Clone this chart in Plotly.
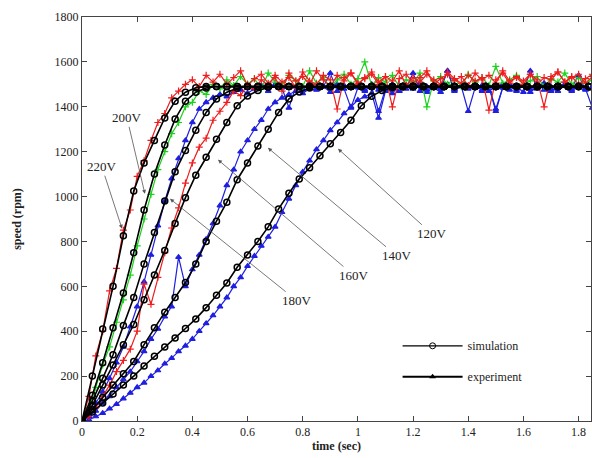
import plotly.graph_objects as go

# simulation samples (one marker every 0.0375 s)
sim_dt = 0.0375
sim_220 = [0, 200, 410, 600, 825, 1025, 1150, 1250, 1350, 1425, 1465, 1485] + [1490] * 38
sim_200 = [0, 115, 260, 415, 570, 750, 940, 1100, 1230, 1345, 1425, 1465, 1484] + [1490] * 37
sim_180 = [0, 90, 190, 295, 425, 550, 700, 840, 980, 1110, 1205, 1295, 1375, 1435,
           1465, 1482] + [1490] * 34
sim_160 = [0, 70, 160, 250, 340, 430, 540, 650, 760, 880, 995, 1095, 1175, 1255, 1330,
           1405, 1448, 1472, 1487] + [1490] * 31
sim_140 = [0, 50, 105, 160, 210, 265, 340, 415, 485, 550, 617, 700, 800, 890, 975, 1075,
           1150, 1225, 1300, 1375, 1435, 1466, 1484] + [1490] * 27
sim_120 = [0, 40, 80, 120, 160, 200, 245, 288, 330, 370, 412, 455, 505, 560, 615, 685,
           740, 800, 865, 945, 1015, 1078, 1128, 1182, 1235, 1285, 1340, 1405, 1447,
           1472, 1486] + [1490] * 19

# measured speed (one sample every 0.025 s)
exp_dt = 0.025
exp_220 = [0, 110, 290, 400, 580, 680, 850, 940, 1090, 1160, 1250, 1330, 1370, 1440, 1470,
           1500, 1520, 1490, 1540,
           1510, 1545, 1500, 1530, 1560, 1495, 1525, 1545, 1505, 1530,
           1470, 1550, 1515, 1535, 1500, 1560, 1520, 1490, 1540, 1515,
           1550, 1500, 1530, 1555, 1510, 1535, 1400, 1525, 1545, 1505,
           1530, 1560, 1500, 1525, 1545, 1515, 1535, 1495, 1550, 1520,
           1540, 1505, 1560, 1515, 1530, 1500, 1545, 1520, 1400, 1535,
           1555, 1510, 1530, 1545, 1505, 1535]
exp_200 = [0, 60, 150, 250, 330, 440, 540, 650, 780, 900, 1010, 1120, 1200, 1280, 1330,
           1400, 1420, 1470, 1455, 1500, 1480, 1520, 1495,
           1535, 1500, 1525, 1480, 1550, 1510, 1495, 1540, 1515, 1490,
           1560, 1505, 1530, 1485, 1520, 1545, 1500, 1525, 1600, 1495,
           1530, 1510, 1540, 1490, 1520, 1505, 1550, 1400, 1515, 1535,
           1500, 1525, 1490, 1545, 1510, 1530, 1495, 1580, 1505, 1520,
           1540, 1500, 1515, 1535, 1490, 1525, 1510, 1550, 1500, 1530,
           1505, 1520]
exp_180 = [0, 30, 80, 130, 190, 260, 330, 420, 510, 620, 740, 870, 980, 1080, 1170, 1250,
           1330, 1390, 1420, 1440, 1455, 1445, 1465, 1475, 1460,
           1480, 1495, 1470, 1500, 1485, 1395, 1490, 1475, 1505, 1480,
           1490, 1550, 1470, 1495, 1485, 1500, 1475, 1490, 1380, 1480,
           1500, 1470, 1495, 1485, 1505, 1475, 1490, 1480, 1560, 1470,
           1495, 1485, 1500, 1475, 1490, 1390, 1485, 1500, 1470, 1495,
           1480, 1505, 1475, 1490, 1485, 1500, 1470, 1495, 1480, 1490]
exp_160 = [0, 20, 60, 110, 160, 220, 270, 320, 400, 610, 520, 640, 750, 860, 950, 1060,
           1150, 1220, 1260, 1340, 1380, 1420, 1470, 1450, 1500, 1480, 1520,
           1495, 1540, 1510, 1530, 1485, 1555, 1515, 1500, 1540, 1520,
           1390, 1530, 1550, 1505, 1525, 1545, 1500, 1535, 1515, 1560,
           1495, 1530, 1510, 1545, 1520, 1500, 1555, 1525, 1505, 1540,
           1515, 1530, 1385, 1520, 1550, 1505, 1535, 1515, 1545, 1500,
           1530, 1520, 1555, 1510, 1535, 1500, 1525, 1545]
exp_140 = [0, 20, 45, 80, 110, 150, 185, 220, 265, 310, 365, 410, 465, 510, 730, 600, 675,
           740, 810, 880, 960, 1050, 1120, 1200, 1250, 1300, 1340, 1390, 1420, 1440, 1455,
           1470, 1460, 1480,
           1475, 1490, 1465, 1500, 1480, 1395, 1485, 1470, 1500, 1475,
           1490, 1460, 1495, 1480, 1550, 1470, 1490, 1485, 1465, 1500,
           1478, 1490, 1380, 1485, 1495, 1470, 1488, 1500, 1475, 1490,
           1465, 1560, 1480, 1495, 1470, 1485, 1500, 1475, 1490, 1480, 1395]
exp_120 = [0, 5, 20, 35, 55, 75, 100, 125, 150, 170, 200, 225, 255, 280, 310, 335, 365,
           400, 435, 470, 510, 550, 600, 640, 690, 735, 780, 820, 865, 930, 990, 1050,
           1110, 1160, 1210, 1250, 1295, 1330, 1370, 1400, 1430, 1445, 1460, 1350, 1470,
           1485,
           1470, 1495, 1480, 1505, 1465, 1490, 1485, 1560, 1475, 1495,
           1480, 1500, 1470, 1490, 1380, 1485, 1500, 1475, 1495, 1465,
           1490, 1505, 1480, 1470, 1495, 1485, 1540, 1475, 1490]

# voltage labels: (label, arrow tip t, tip rpm, label t, label rpm)
labels = [("220V", 0.145, 857, 0.072, 1133),
          ("200V", 0.228, 1012, 0.163, 1351),
          ("180V", 0.319, 990, 0.779, 536),
          ("160V", 0.493, 1164, 0.986, 648),
          ("140V", 0.674, 1217, 1.141, 736),
          ("120V", 0.928, 1213, 1.268, 834)]

FONT = "Liberation Serif, Times New Roman, serif"

fig = go.Figure()

exp_series = [(exp_120, "#1f1fe0", "triangle-up"), (exp_140, "#1f1fe0", "triangle-up"),
              (exp_180, "#1f1fe0", "triangle-up"), (exp_200, "#19d219", "cross-thin"),
              (exp_160, "#ee1c1c", "cross-thin"), (exp_220, "#ee1c1c", "cross-thin")]
for vals, col, sym in exp_series:
    t = [round(i * exp_dt, 4) for i in range(len(vals))]
    fig.add_trace(go.Scatter(x=t, y=vals, mode="lines+markers", showlegend=False,
                             line=dict(color=col, width=1.2),
                             marker=dict(symbol=sym, size=5, color=col,
                                         line=dict(color=col, width=1.2))))

for vals in [sim_220, sim_200, sim_180, sim_160, sim_140, sim_120]:
    t = [round(i * sim_dt, 4) for i in range(len(vals))]
    fig.add_trace(go.Scatter(x=t, y=vals, mode="lines+markers", showlegend=False,
                             line=dict(color="black", width=1.6),
                             marker=dict(symbol="circle-open", size=6, color="black",
                                         line=dict(width=1.5))))

# legend entries only
fig.add_trace(go.Scatter(x=[None], y=[None], mode="lines+markers", name="simulation",
                         legendgroup="a", line=dict(color="black", width=1.3),
                         marker=dict(symbol="circle-open", size=6, color="black")))
fig.add_trace(go.Scatter(x=[None], y=[None], mode="lines+markers", name="experiment",
                         legendgroup="b", line=dict(color="black", width=2),
                         marker=dict(symbol="triangle-up", size=6, color="black")))

for txt, x, y, ax, ay in labels:
    fig.add_annotation(x=x, y=y, ax=ax, ay=ay, axref="x", ayref="y", text=txt,
                       showarrow=True, arrowhead=2, arrowsize=1, arrowwidth=0.8,
                       arrowcolor="#555", font=dict(family=FONT, size=13, color="#222"))

axis_common = dict(showline=True, linecolor="#444", linewidth=1, mirror="ticks",
                   ticks="inside", ticklen=5, tickcolor="#444", showgrid=False,
                   zeroline=False, automargin=False,
                   tickfont=dict(family=FONT, size=12, color="#222"))

fig.update_layout(
    width=592, height=458,
    margin=dict(l=82, r=1, t=17, b=37),
    paper_bgcolor="white", plot_bgcolor="white",
    xaxis=dict(range=[0, 1.845], tick0=0, dtick=0.2,
               title=dict(text="<b>time (sec)</b>", standoff=0,
                          font=dict(family=FONT, size=12, color="#222")),
               **axis_common),
    yaxis=dict(range=[0, 1800], tick0=0, dtick=200,
               title=dict(text="<b>speed (rpm)</b>", standoff=30,
                          font=dict(family=FONT, size=12, color="#222")),
               **axis_common),
    legend=dict(x=0.62, y=0.222, xanchor="left", yanchor="top",
                bgcolor="rgba(0,0,0,0)", itemwidth=60, tracegroupgap=12,
                font=dict(family=FONT, size=12, color="#222")),
)

# the page's default body margin would shift the figure by 8 px
fig.write_html("out.html", config={"displayModeBar": False},
               post_script="document.body.style.margin = '0';")
